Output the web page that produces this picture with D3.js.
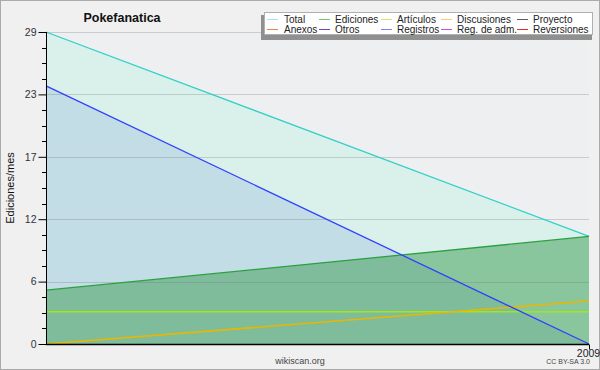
<!DOCTYPE html>
<html><head><meta charset="utf-8">
<script src="https://cdn.jsdelivr.net/npm/d3@7"></script>
<style>
html,body{margin:0;padding:0;background:#f0f0f0;}
svg{display:block;}
text{font-family:"Liberation Sans",Arial,sans-serif;}
</style></head>
<body>
<svg id="c" width="600" height="370"></svg>
<script>
const title = "Pokefanatica";
const months = ["2008-12-01", "2009-01-01"];
const total = [29, 10];
const ediciones = [5, 10];
const registros = [24, 0];
const articulos = [3, 3];
const discusiones = [0, 4];
const yTickValues = [0, 5.8, 11.6, 17.4, 23.2, 29];
const yTickLabels = ["0", "6", "12", "17", "23", "29"];
const xTickDates = ["2009-01-01"];
const xTickLabels = ["2009"];
const legendNames = ["Total","Ediciones","Artículos","Discusiones","Proyecto","Anexos","Otros","Registros","Reg. de adm.","Reversiones"];
const legendColors = ["#a8e4e4","#80c080","#c8e870","#f0d070","#606060","#f08048","#8040c0","#8080ff","#d050d0","#e03030"];

const svg = d3.select("#c");
const W = 600, H = 370;
const m = {l:46, r:11, t:32, b:26};
const parse = d3.timeParse("%Y-%m-%d");
const dates = months.map(parse);

svg.append("rect").attr("x",0.5).attr("y",0.5).attr("width",W-1).attr("height",H-1)
  .attr("fill","#f0f0f0").attr("stroke","#aaaaaa").attr("stroke-width",1);

const x = d3.scaleTime().domain(d3.extent(dates)).range([m.l, W - m.r]);
const y = d3.scaleLinear().domain([0, 29]).range([H - m.b, m.t]);

svg.append("rect").attr("x",m.l).attr("y",m.t).attr("width",x.range()[1]-m.l).attr("height",y(0)-m.t).attr("fill","#eeeff1");

function series(vals){ return vals.map((v,i)=>({d:dates[i], v})); }
const area = d3.area().x(p=>x(p.d)).y0(y(0)).y1(p=>y(p.v));
const line = d3.line().x(p=>x(p.d)).y(p=>y(p.v));

svg.append("path").datum(series(total)).attr("d",area).attr("fill","#d9f1ea");
svg.append("path").datum(series(registros)).attr("d",area).attr("fill","#c3dde7");
svg.append("path").datum(series(ediciones)).attr("d",area).attr("fill","rgba(60,155,80,0.5)");

svg.append("g").selectAll("line").data(yTickValues).join("line")
  .attr("x1",m.l).attr("x2",x.range()[1]).attr("y1",d=>Math.round(y(d))+0.5).attr("y2",d=>Math.round(y(d))+0.5)
  .attr("stroke","rgba(110,110,110,0.28)").attr("stroke-width",1);

svg.append("path").datum(series(total)).attr("d",line).attr("fill","none").attr("stroke","#30d0c8").attr("stroke-width",1.3);
svg.append("path").datum(series(ediciones)).attr("d",line).attr("fill","none").attr("stroke","#2ca040").attr("stroke-width",1.3);
svg.append("path").datum(series(articulos)).attr("d",line).attr("fill","none").attr("stroke","#9ee81a").attr("stroke-width",1.6);
svg.append("path").datum(series(discusiones)).attr("d",line).attr("fill","none").attr("stroke","#e8b800").attr("stroke-width",1.6);
svg.append("path").datum(series(registros)).attr("d",line).attr("fill","none").attr("stroke","#3040ff").attr("stroke-width",1.3);

const yAxis = d3.axisLeft(y).tickValues(yTickValues).tickFormat((d,i)=>yTickLabels[i]).tickSize(8).tickPadding(2);
const gy = svg.append("g").attr("transform",`translate(${m.l+0.5},0)`).call(yAxis);
gy.select(".domain").attr("stroke","#000").attr("d",`M0,${y(29)}V${y(0)}`);
gy.selectAll(".tick line").attr("stroke","#000");
gy.selectAll(".tick text").attr("fill","#333").attr("font-size","10.5px");
const minor = d3.range(0, 29.0001, 1.45).filter((d,i)=>i%4!==0);
svg.append("g").selectAll("line").data(minor).join("line")
  .attr("x1",m.l-4).attr("x2",m.l).attr("y1",d=>Math.round(y(d))+0.5).attr("y2",d=>Math.round(y(d))+0.5)
  .attr("stroke","#000");

const xAxis = d3.axisBottom(x).tickValues(xTickDates.map(parse)).tickFormat((d,i)=>xTickLabels[i]).tickSize(5).tickPadding(0);
const gx = svg.append("g").attr("transform",`translate(0,${y(0)+0.5})`).call(xAxis);
gx.select(".domain").attr("stroke","#000").attr("stroke-width",1.5).attr("d",`M${m.l},0H${x.range()[1]}`);
gx.selectAll(".tick line").attr("stroke","#000");
gx.selectAll(".tick text").attr("fill","#222").attr("font-size","10.5px").attr("dx","-1");

svg.append("text").attr("transform",`translate(14,${(y(0)+y(29))/2}) rotate(-90)`)
  .attr("text-anchor","middle").attr("font-family","DejaVu Sans Mono, monospace").attr("font-size","11px").attr("fill","#111").text("Ediciones/mes");

svg.append("text").attr("x",122).attr("y",22).attr("text-anchor","middle").attr("font-weight","bold").attr("font-size","12.5px").attr("fill","#111").text(title);

svg.append("text").attr("x",300).attr("y",364).attr("text-anchor","middle").attr("font-size","9px").attr("fill","#444").text("wikiscan.org");
svg.append("text").attr("x",590).attr("y",364).attr("text-anchor","end").attr("font-size","7px").attr("fill","#444").text("CC BY-SA 3.0");

svg.append("rect").attr("x",261).attr("y",15).attr("width",331).attr("height",25).attr("fill","#909090");
svg.append("rect").attr("x",264.5).attr("y",12.5).attr("width",328).attr("height",22).attr("fill","#fff").attr("stroke","#b0b0b0");
const colLine = [267, 319, 381, 441, 517];
const colText = [284, 335, 397, 457, 533];
const lg = svg.append("g");
legendNames.forEach((n,i)=>{
  const c = i % 5, r = Math.floor(i/5);
  const yy = 19.5 + r*10;
  lg.append("line").attr("x1",colLine[c]).attr("x2",colLine[c]+11).attr("y1",yy).attr("y2",yy).attr("stroke",legendColors[i]).attr("stroke-width",1);
  lg.append("text").attr("x",colText[c]).attr("y",yy+3.5).attr("font-size","10px").attr("fill","#222").text(n);
});
</script>
</body></html>
